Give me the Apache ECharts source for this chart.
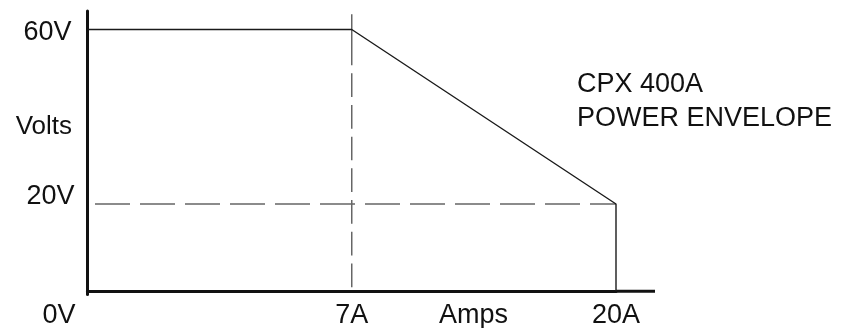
<!DOCTYPE html>
<html>
<head>
<meta charset="utf-8">
<script src="https://cdn.jsdelivr.net/npm/echarts@6/dist/echarts.min.js"></script>
<style>
html,body{margin:0;padding:0;background:#fff;}
#chart{width:853px;height:328px;}
</style>
</head>
<body>
<div id="chart"></div>
<script>
// ---- data ----
const ampCategories = ['0A', '7A', '20A'];
const voltTicks = [0, 20, 60];
const envelopeAmps = ['0A', '7A', '20A', '20A'];
const envelopeVolts = [60, 60, 20, 0];
const limitAmps = ['7A', '7A'];        // dashed current limit line
const limitAmpVolts = [63.5, 0];
const limitVoltAmps = ['0A', '20A'];   // dashed voltage limit line
const limitVolts = [20, 20];
const titleLines = ['CPX 400A', 'POWER ENVELOPE'];
const yAxisName = 'Volts';
const xAxisName = 'Amps';

const tickFont = 'Liberation Sans';
const titleFont = 'Liberation Sans';

const chart = echarts.init(document.getElementById('chart'), null, {renderer: 'canvas'});

const pair = (xs, ys) => xs.map((x, i) => [x, ys[i]]);

const labelRich = {
  n: {fontFamily: tickFont, fontSize: 27, color: '#111', padding: [6, 4, 0, 0]},
  up: {fontFamily: tickFont, fontSize: 27, color: '#111', padding: [0, 1, 14, 0]},
  low: {fontFamily: tickFont, fontSize: 27, color: '#111', padding: [48, 0, 0, 0]}
};

chart.setOption({
  animation: false,
  backgroundColor: '#fff',
  title: {
    text: titleLines.join('\n'),
    left: 577,
    top: 68,
    padding: 0,
    textStyle: {fontFamily: titleFont, fontSize: 27, fontWeight: 'normal', color: '#111', lineHeight: 34}
  },
  grid: {left: 87.5, right: 237, top: 11, bottom: 33.5, containLabel: false, outerBoundsMode: 'none'},
  xAxis: {
    type: 'category',
    data: ampCategories,
    boundaryGap: false,
    name: xAxisName,
    nameLocation: 'middle',
    nameGap: 8,
    nameMoveOverlap: false,
    nameTextStyle: {fontFamily: tickFont, fontSize: 27, color: '#111', verticalAlign: 'top', padding: [0, 0, 0, 243.5]},
    axisLine: {
      show: true,
      lineStyle: {color: '#111', width: 3},
      symbol: ['none', 'rect'],
      symbolSize: [3, 39],
      symbolOffset: [0, 19.5]
    },
    axisTick: {show: false},
    splitLine: {show: false},
    axisLabel: {
      margin: 8,
      interval: (idx) => idx > 0,
      fontFamily: tickFont, fontSize: 27, color: '#111'
    }
  },
  yAxis: {
    type: 'value',
    min: -0.75,
    max: 64.25,
    name: '{v|' + yAxisName + '}',
    nameLocation: 'middle',
    nameRotate: 0,
    nameGap: 15.5,
    nameMoveOverlap: false,
    nameTextStyle: {
      fontFamily: tickFont, fontSize: 26, color: '#111',
      rich: {v: {fontFamily: tickFont, fontSize: 26, color: '#111', padding: [0, 0, 52, 0]}}
    },
    axisLine: {show: true, lineStyle: {color: '#111', width: 3}},
    axisTick: {show: false},
    splitLine: {show: false},
    axisLabel: {
      margin: 12,
      customValues: voltTicks,
      formatter: (v) => {
        if (v === 0) return '{low|' + v + 'V}';
        if (v === 20) return '{up|' + v + 'V}';
        return '{n|' + v + 'V}';
      },
      rich: labelRich
    }
  },
  series: [
    {
      type: 'line',
      data: pair(limitAmps, limitAmpVolts),
      symbol: 'none',
      silent: true,
      lineStyle: {color: '#666', width: 1.5, type: [51, 8, 23.7, 8, 23.7, 8, 23.7, 8, 23.7, 8, 23.7, 8, 23.7, 8, 23.7, 8]},
      z: 2
    },
    {
      type: 'line',
      data: pair(limitVoltAmps, limitVolts),
      symbol: 'none',
      silent: true,
      lineStyle: {color: '#666', width: 1.5, type: [35, 10], dashOffset: 37.5},
      z: 2
    },
    {
      type: 'line',
      data: pair(envelopeAmps, envelopeVolts),
      symbol: 'none',
      silent: true,
      lineStyle: {color: '#1a1a1a', width: 1.4},
      z: 3
    }
  ]
});
</script>
</body>
</html>
